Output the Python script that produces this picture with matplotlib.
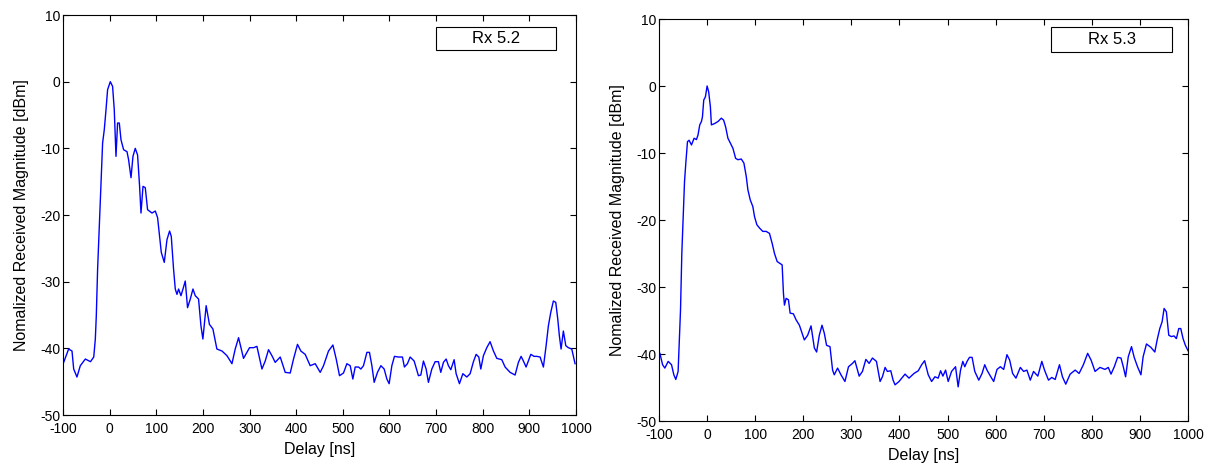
import numpy as np
import matplotlib
matplotlib.use("Agg")
import matplotlib.pyplot as plt
from matplotlib.patches import Rectangle

plt.rcParams['font.family'] = ['Liberation Sans', 'DejaVu Sans']
plt.rcParams['axes.unicode_minus'] = False

# Rx 5.2 - delay [ns], normalized magnitude [dBm]
delay_52 = [-98.5, -87.8, -80.6, -77, -70, -62.8, -52, -41, -34, -30.6, -28.5, -25.7, -22, -18.4,
            -15, -11.4, -7.7, -4.3, 1.5, 6.4, 10, 13.7, 17.1, 20.8, 24.4, 30, 37.3, 40.7, 45.9,
            50.1, 55, 60, 64.3, 67.3, 71.6, 76.5, 81.4, 90.9, 98, 102.9, 107.1, 110.8, 117.2,
            123, 128.6, 132.2, 137.1, 140.8, 144.4, 147.9, 153, 157.3, 162.2, 167.1, 173, 178.7,
            183.6, 190.7, 195.8, 200, 207, 214, 221.5, 230, 241, 251.6, 262.3, 269.3, 276.5,
            287.1, 300, 308.6, 315.8, 326.6, 333.6, 340.7, 348, 355, 365.8, 376.5, 387.2, 394.3,
            402.8, 410, 419.3, 430, 440.8, 451.5, 458.6, 469.3, 478.7, 485.8, 492.9, 501.4,
            508.7, 515.8, 521.5, 526.5, 533.6, 538.7, 544.3, 551.6, 557.1, 562.3, 567.2, 574.3,
            581.6, 588.6, 594.4, 599.3, 605.1, 610.7, 619.2, 627.8, 632, 638.5, 644.3, 652.9,
            662.1, 667.2, 672.8, 678.6, 683.5, 690.8, 697.9, 704.9, 710, 715.7, 721.5, 726.4,
            731.5, 738.6, 742.9, 750, 757.3, 765.8, 772.9, 780, 785.8, 791.5, 795.8, 801.4,
            808.6, 815.7, 822.9, 830.1, 840.8, 847.9, 858.6, 869.3, 876.4, 882.2, 887.1, 892.9,
            897.8, 903, 910, 915.8, 922.9, 930, 935.8, 940.7, 945.8, 951.4, 956.5, 960.8, 964.2,
            967.9, 972.8, 978, 983.5, 990.8, 997.9]
mag_52 = [-42.1, -40.1, -40.4, -43.1, -44.3, -42.6, -41.6, -42, -41.3, -38.6, -35.1, -28.1, -21.7,
          -15.2, -9.2, -7.2, -4.2, -1.2, 0, -0.7, -4.2, -11.2, -6.2, -6.2, -8.7, -10.2, -10.5,
          -11.7, -14.4, -11.2, -10, -11, -15.7, -19.7, -15.7, -15.9, -19.2, -19.7, -19.4, -20.4,
          -23.2, -25.6, -27.1, -23.7, -22.4, -23.2, -28.1, -31.1, -31.9, -31.1, -32.1, -31.1,
          -29.9, -33.9, -32.6, -31.1, -32.1, -32.6, -36.6, -38.6, -33.6, -36.4, -37.1, -40.1,
          -40.4, -41.1, -42.3, -40.1, -38.4, -41.5, -39.9, -39.9, -39.7, -43.1, -41.9, -40.2,
          -41.1, -42.1, -41.3, -43.6, -43.7, -41.6, -39.4, -40.4, -40.9, -42.6, -42.3, -43.6,
          -42.6, -40.4, -39.5, -41.6, -44.1, -43.7, -42.3, -42.6, -44.6, -42.8, -42.8, -43.1,
          -42.6, -40.6, -40.6, -42.6, -45.1, -43.6, -42.6, -43.1, -44.6, -45.3, -42.6, -41.2,
          -41.3, -41.3, -42.8, -42.3, -41.3, -41.9, -44.1, -44, -41.9, -43.1, -45.1, -43.1,
          -42, -42, -43.6, -42.1, -41.6, -42.6, -43.2, -41.7, -43.8, -45.3, -43.8, -44.3,
          -43.8, -42, -40.9, -41.3, -43.1, -41.1, -39.9, -39, -40.4, -41.5, -41.7, -42.8,
          -43.6, -44, -42.1, -41.2, -41.9, -42.8, -41.9, -40.9, -41.2, -41.2, -41.3, -42.8,
          -39.6, -36.6, -34.6, -32.9, -33.1, -35.6, -38.1, -40.1, -37.4, -39.6, -39.9, -40.1,
          -42.3]

# Rx 5.3
delay_53 = [-98.2, -92.6, -87.9, -81, -74, -69.2, -65.1, -60.3, -58.2, -55.3, -52.6, -49.9, -47,
            -44.3, -40.8, -37.5, -32.5, -27.1, -22.2, -18.9, -15.3, -11.8, -9.7, -7, -3.5, 0,
            3.3, 6.8, 8.9, 15.7, 22.6, 29.6, 34.4, 38.5, 43.3, 48.9, 53.7, 59.3, 64.1, 71.1,
            76.5, 81.4, 84.8, 89.7, 95.1, 98.6, 103.4, 109, 115.8, 122.9, 129.7, 135.3, 140.1,
            145.7, 156, 158.7, 160.8, 164.3, 169.1, 172.6, 179.4, 185, 191.9, 202.2, 209.1,
            216.1, 223, 227.7, 233.3, 238.9, 243.7, 248.4, 255.5, 260.9, 264.4, 271.3, 278.3,
            286.6, 294, 302.3, 307.3, 312.7, 316.2, 323, 330.1, 336.9, 343.8, 352.1, 359.7,
            364.5, 370.1, 374.8, 381.9, 386.7, 390.8, 399.1, 411.6, 419.8, 430.2, 439.1, 446.1,
            452.3, 459.8, 466.8, 473.7, 480.5, 485.5, 490.3, 495.9, 501.3, 508.3, 516.6, 522,
            527, 531.7, 535.8, 540.6, 545.6, 551, 556.6, 564.9, 571.7, 577.3, 582, 589.1, 595.9,
            602.8, 609.8, 616.7, 623.5, 629.1, 635.3, 642.2, 651.3, 658.1, 665, 672, 678.8,
            687.7, 696, 701.6, 709.9, 716.7, 723.8, 732.7, 738.9, 745.8, 754.9, 765.3, 773.5,
            782.4, 791.3, 798.4, 806.7, 817, 827.4, 834.2, 839.9, 846.7, 853.6, 860.6, 865.4,
            870.2, 875.8, 882.5, 888.1, 895, 902.1, 906.7, 913.6, 922.7, 931, 935.8, 941.3,
            946.1, 950.3, 955, 960, 965.4, 971, 975.8, 980.8, 984.9, 989.7, 994.5, 1000]
mag_53 = [-39.9, -41.6, -42.1, -41.1, -41.6, -43.1, -43.8, -42.6, -38.9, -33.4, -25, -20, -14.3,
          -11.5, -8.3, -8.1, -8.8, -7.8, -8, -7.3, -5.8, -5.3, -4.6, -2.1, -1.6, 0, -0.9, -3.1,
          -5.8, -5.6, -5.3, -4.8, -5.1, -6.1, -7.8, -8.6, -9.3, -10.8, -11, -10.9, -11.5, -13.5,
          -15.5, -17, -18, -19.5, -20.7, -21.2, -21.7, -21.7, -22, -23.5, -25, -26.2, -26.7,
          -30.9, -32.7, -31.7, -31.9, -33.9, -34, -34.9, -35.7, -37.9, -37.2, -35.8, -39.1,
          -39.7, -37.2, -35.7, -36.9, -38.7, -38.9, -42.4, -43.1, -42.1, -43.1, -44.1, -41.9,
          -41.4, -41, -42.4, -43.3, -42.6, -40.8, -41.4, -40.6, -41.1, -44.1, -43.4, -42,
          -42.6, -42.5, -43.9, -44.6, -44.1, -43, -43.6, -42.9, -42.5, -41.6, -41, -43.1,
          -44.1, -43.4, -43.6, -42.5, -43.3, -42.4, -44.1, -42.6, -41.9, -44.9, -42.4, -41.1,
          -41.9, -41.1, -40.5, -40.5, -42.6, -43.9, -42.9, -41.6, -42.4, -43.3, -44.1, -42.3,
          -41.9, -42.3, -40.1, -40.9, -42.9, -43.6, -42, -42.6, -42.4, -43.9, -42.6, -43.3,
          -41.1, -42.4, -43.9, -43.5, -43.8, -41.6, -43.4, -44.5, -43, -42.4, -42.9, -41.6,
          -39.9, -40.9, -42.6, -42, -42.3, -42, -43, -41.9, -40.5, -40.6, -41.9, -43.4, -40.4,
          -38.9, -40.5, -41.9, -43.1, -40.4, -38.5, -39, -39.7, -37.9, -36.2, -35.2, -33.2,
          -33.7, -37.2, -37.4, -37.3, -37.7, -36.2, -36.2, -37.7, -38.7, -39.5]

series = [(delay_52, mag_52, 'Rx 5.2'), (delay_53, mag_53, 'Rx 5.3')]
xticks = np.arange(-100, 1001, 100)
yticks = np.arange(-50, 11, 10)

fig = plt.figure(figsize=(12.13, 4.68), dpi=100)
# axes positions in figure fraction
positions = [[0.0519, 0.1132, 0.4230, 0.8547], [0.5433, 0.1004, 0.4361, 0.8590]]
legend_boxes = [(0.727, 0.9125, 0.234, 0.0575), (0.741, 0.918, 0.229, 0.062)]

for (d, m, name), pos, lb in zip(series, positions, legend_boxes):
    ax = fig.add_axes(pos)
    ax.plot(d, m, color='#0000FF', linewidth=1.0)
    ax.set_xlim(-100, 1000)
    ax.set_ylim(-50, 10)
    ax.set_xticks(xticks)
    ax.set_yticks(yticks)
    ax.tick_params(direction='in', top=True, right=True, labelsize=10, length=4)
    ax.tick_params(axis='x', pad=5)
    ax.tick_params(axis='y', pad=2)
    for s in ax.spines.values():
        s.set_linewidth(0.8)
    ax.set_xlabel('Delay [ns]', fontsize=11.5, labelpad=4)
    ax.set_ylabel('Nomalized Received Magnitude [dBm]', fontsize=11.5, labelpad=8)
    # legend box
    ax.add_patch(Rectangle((lb[0], lb[1]), lb[2], lb[3], transform=ax.transAxes,
                           facecolor='white', edgecolor='black', linewidth=0.8, zorder=5))
    ax.text(lb[0] + lb[2] / 2, lb[1] + lb[3] / 2, name, transform=ax.transAxes,
            ha='center', va='center', fontsize=12, zorder=6)

plt.savefig('out.png', dpi=100)
